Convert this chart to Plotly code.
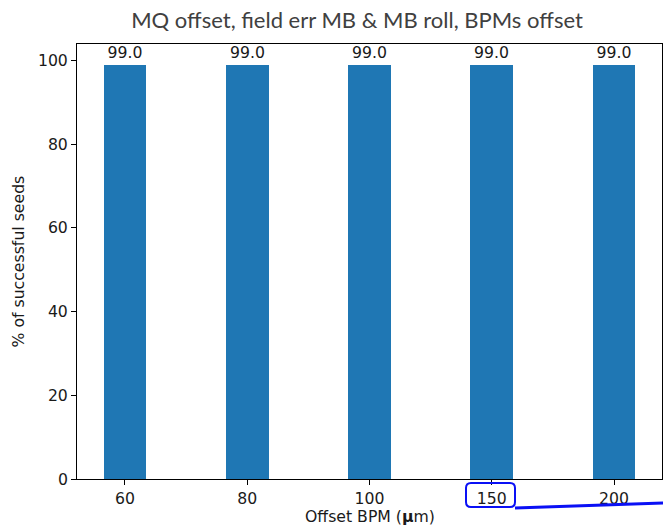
import plotly.graph_objects as go

categories = ["60", "80", "100", "150", "200"]
success_pct = [99.0, 99.0, 99.0, 99.0, 99.0]
y_ticks = [0, 20, 40, 60, 80, 100]

title_text = "MQ offset, field err MB & MB roll, BPMs offset"
x_title = "Offset BPM (<b>μ</b>m)"
y_title = "% of successful seeds"

BAR_COLOR = "#1f77b4"
TXT = "#1a1a1a"
FONT = "DejaVu Sans"
FS = 15.7

fig = go.Figure()
fig.add_trace(go.Bar(
    x=categories, y=success_pct, width=0.35,
    marker=dict(color=BAR_COLOR, line=dict(width=0)),
    text=[f"{v:.1f}" for v in success_pct], textposition="outside",
    textfont=dict(family=FONT, size=FS, color=TXT), cliponaxis=False,
    hoverinfo="skip",
))

ymax = max(success_pct) * 1.05
n = len(categories)
pad = (n - 1 + 0.35) * 0.05

fig.update_layout(
    width=663, height=528,
    margin=dict(l=77, r=1, t=44, b=49, pad=0),
    plot_bgcolor="white", paper_bgcolor="white",
    showlegend=False, bargap=0, uniformtext=dict(mode=False),
    font=dict(family=FONT, color=TXT, size=FS),
    title=dict(text=title_text, x=357/663, xanchor="center",
               y=1 - 20/528, yanchor="middle", xref="container", yref="container",
               font=dict(family="Lato", size=22, color="#404040")),
    xaxis=dict(type="category", range=[-0.175 - pad, n - 1 + 0.175 + pad],
               showgrid=False, zeroline=False, showline=True, mirror=True,
               linecolor="black", linewidth=1, ticks="outside", ticklen=5,
               tickwidth=1, tickcolor="black",
               tickfont=dict(family=FONT, size=FS, color=TXT)),
    yaxis=dict(range=[0, ymax], tickvals=y_ticks, showgrid=False, zeroline=False,
               showline=True, mirror=True, linecolor="black", linewidth=1,
               ticks="outside", ticklen=5, tickwidth=1, tickcolor="black",
               tickfont=dict(family=FONT, size=FS, color=TXT)),
)

# axis titles
fig.add_annotation(text=x_title, xref="paper", yref="paper", x=0.5, y=(479 - 516) / 435,
                   xanchor="center", yanchor="middle", showarrow=False,
                   font=dict(family=FONT, size=FS, color=TXT))
fig.add_annotation(text=y_title, xref="paper", yref="paper", x=(18 - 77) / 585, y=0.5,
                   xanchor="center", yanchor="middle", showarrow=False, textangle=-90,
                   font=dict(family=FONT, size=FS, color=TXT))

# blue highlight box around "150" and connector line
def px(xp):
    return (xp - 77) / 585

def py(yp):
    return (479 - yp) / 435

x0, x1, y0, y1, r = 466, 515, 483, 507, 5
path = (f"M {px(x0 + r)},{py(y0)} L {px(x1 - r)},{py(y0)} "
        f"Q {px(x1)},{py(y0)} {px(x1)},{py(y0 + r)} L {px(x1)},{py(y1 - r)} "
        f"Q {px(x1)},{py(y1)} {px(x1 - r)},{py(y1)} L {px(x0 + r)},{py(y1)} "
        f"Q {px(x0)},{py(y1)} {px(x0)},{py(y1 - r)} L {px(x0)},{py(y0 + r)} "
        f"Q {px(x0)},{py(y0)} {px(x0 + r)},{py(y0)} Z")
fig.add_shape(type="path", path=path, xref="paper", yref="paper",
              line=dict(color="#0a10f5", width=2))
fig.add_shape(type="line", xref="paper", yref="paper",
              x0=px(515), y0=py(508), x1=px(664), y1=py(503),
              line=dict(color="#0a10f5", width=3))

fig.write_html("out.html")
